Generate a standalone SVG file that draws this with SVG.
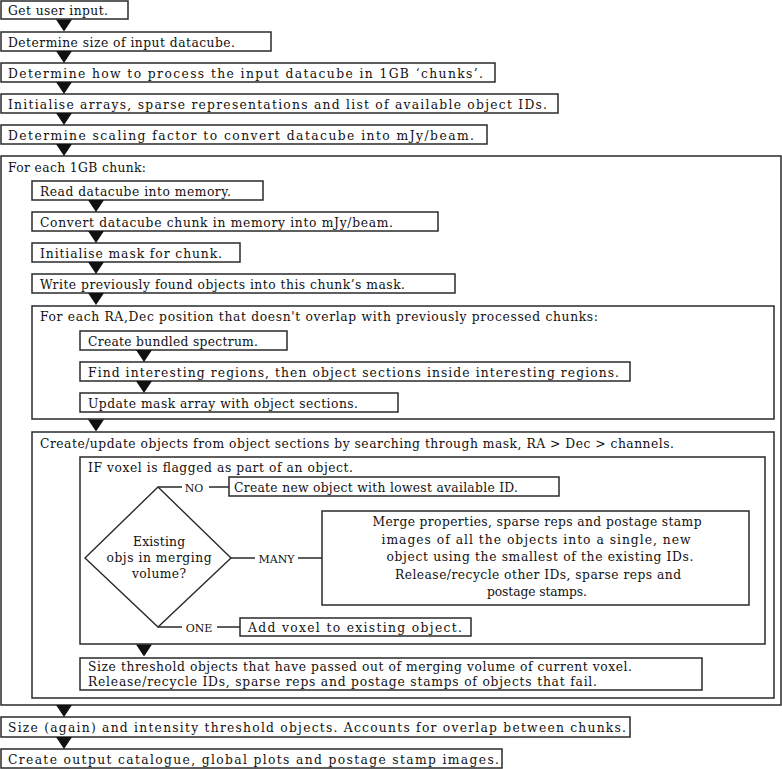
<svg xmlns="http://www.w3.org/2000/svg" width="782" height="769" viewBox="0 0 782 769">
<style>
rect{fill:#fff;stroke:#2a2a2a;stroke-width:1.5}
text{font-family:"DejaVu Serif","Liberation Serif",serif;font-size:12.3px;fill:#111}
.c{text-anchor:middle}
.lbl{font-size:11px}
.ln{stroke:#2a2a2a;stroke-width:1.3;fill:none}
.ar{fill:#111}
polygon.d{fill:#fff;stroke:#2a2a2a;stroke-width:1.4}
</style>
<defs>
<polygon id="tri" points="-8,0 8,0 0,12"/>
</defs>
<rect x="0" y="0" width="782" height="769" style="fill:#fff;stroke:none"/>

<g id="outer-chunk">
<rect x="1" y="156" width="780" height="549"/>
<text x="8" y="172" textLength="138">For each 1GB chunk:</text>
</g>
<g id="radec-loop">
<rect x="32" y="306" width="742" height="113"/>
<text x="40" y="321" textLength="558">For each RA,Dec position that doesn't overlap with previously processed chunks:</text>
</g>
<g id="create-update">
<rect x="32" y="432" width="742" height="266"/>
<text x="40" y="448" textLength="634">Create/update objects from object sections by searching through mask, RA &gt; Dec &gt; channels.</text>
</g>
<g id="if-voxel">
<rect x="80" y="457" width="685" height="187"/>
<text x="88" y="472" textLength="265">IF voxel is flagged as part of an object.</text>
</g>

<g id="n1"><rect x="1" y="1" width="127" height="18"/><text x="8" y="15" textLength="100">Get user input.</text></g>
<g id="n2"><rect x="1" y="32" width="270" height="19"/><text x="8" y="46.5" textLength="227">Determine size of input datacube.</text></g>
<g id="n3"><rect x="1" y="63" width="494" height="19"/><text x="8" y="77.5" textLength="475">Determine how to process the input datacube in 1GB ‘chunks’.</text></g>
<g id="n4"><rect x="1" y="94" width="557" height="19"/><text x="8" y="108.5" textLength="539">Initialise arrays, sparse representations and list of available object IDs.</text></g>
<g id="n5"><rect x="1" y="125" width="486" height="19"/><text x="8" y="139.5" textLength="466">Determine scaling factor to convert datacube into mJy/beam.</text></g>

<g id="read"><rect x="32" y="181" width="231" height="19"/><text x="40" y="195.5" textLength="191">Read datacube into memory.</text></g>
<g id="convert"><rect x="32" y="212" width="406" height="19"/><text x="40" y="226.5" textLength="353">Convert datacube chunk in memory into mJy/beam.</text></g>
<g id="initmask"><rect x="32" y="243" width="208" height="19"/><text x="40" y="257.5" textLength="182">Initialise mask for chunk.</text></g>
<g id="write"><rect x="32" y="274" width="423" height="19"/><text x="40" y="288.5" textLength="365">Write previously found objects into this chunk’s mask.</text></g>

<g id="bundled"><rect x="80" y="331" width="207" height="19"/><text x="88" y="345.5" textLength="170">Create bundled spectrum.</text></g>
<g id="find"><rect x="80" y="362" width="550" height="19"/><text x="88" y="376.5" textLength="531">Find interesting regions, then object sections inside interesting regions.</text></g>
<g id="update"><rect x="80" y="393" width="318" height="19"/><text x="88" y="407.5" textLength="270">Update mask array with object sections.</text></g>

<g id="decision">
<polygon class="d" points="158,487 231,558 158,627 85,558"/>
<text class="c" x="159" y="546" textLength="52">Existing</text>
<text class="c" x="159" y="562" textLength="105">objs in merging</text>
<text class="c" x="159" y="578" textLength="54">volume?</text>
</g>
<g id="new-object"><rect x="229" y="477" width="330" height="19"/><text x="234" y="491.5" textLength="284">Create new object with lowest available ID.</text></g>
<g id="merge">
<rect x="322" y="511" width="427" height="94"/>
<text class="c" x="537" y="526" textLength="329">Merge properties, sparse reps and postage stamp</text>
<text class="c" x="536" y="543.5" textLength="309">images of all the objects into a single, new</text>
<text class="c" x="540" y="561" textLength="307">object using the smallest of the existing IDs.</text>
<text class="c" x="538" y="578.5" textLength="286">Release/recycle other IDs, sparse reps and</text>
<text class="c" x="537" y="596" textLength="100">postage stamps.</text>
</g>
<g id="add-voxel"><rect x="240" y="618" width="231" height="18"/><text x="248" y="632" textLength="214">Add voxel to existing object.</text></g>

<g id="size-threshold">
<rect x="80" y="658" width="622" height="32"/>
<text x="88" y="671" textLength="544">Size threshold objects that have passed out of merging volume of current voxel.</text>
<text x="88" y="686" textLength="509">Release/recycle IDs, sparse reps and postage stamps of objects that fail.</text>
</g>

<g id="n6"><rect x="1" y="717" width="629" height="20"/><text x="8" y="732" textLength="618">Size (again) and intensity threshold objects. Accounts for overlap between chunks.</text></g>
<g id="n7"><rect x="1" y="749" width="501" height="19"/><text x="8" y="763.5" textLength="491">Create output catalogue, global plots and postage stamp images.</text></g>

<g id="connectors">
<use href="#tri" class="ar" x="64" y="19.5"/>
<use href="#tri" class="ar" x="64" y="51"/>
<use href="#tri" class="ar" x="64" y="82"/>
<use href="#tri" class="ar" x="64" y="113"/>
<use href="#tri" class="ar" x="64" y="144"/>
<use href="#tri" class="ar" x="64" y="705"/>
<use href="#tri" class="ar" x="64" y="737"/>
<use href="#tri" class="ar" x="96" y="200"/>
<use href="#tri" class="ar" x="96" y="231"/>
<use href="#tri" class="ar" x="96" y="262"/>
<use href="#tri" class="ar" x="96" y="293"/>
<use href="#tri" class="ar" x="96" y="419.5"/>
<use href="#tri" class="ar" x="144" y="350"/>
<use href="#tri" class="ar" x="144" y="381"/>
<use href="#tri" class="ar" x="144" y="644.5"/>
<path class="ln" d="M158,487H182M209,487H229"/>
<text class="c lbl" x="194" y="491.5">NO</text>
<path class="ln" d="M231,558H255M298,558H322"/>
<text class="c lbl" x="276.5" y="562.5">MANY</text>
<path class="ln" d="M158,627H182M217,627H240"/>
<text class="c lbl" x="199" y="631.5">ONE</text>
</g>
</svg>
